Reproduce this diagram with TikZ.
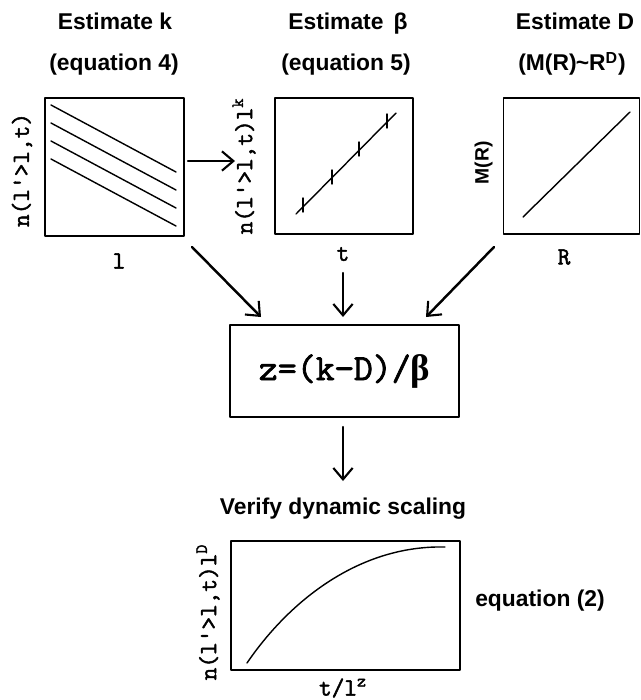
\documentclass[tikz,border=0pt]{standalone}
\usepackage{fontspec}
\setmainfont{Liberation Sans}
\newfontfamily\labfont{Latin Modern Mono}[FakeBold=2]
\newfontfamily\betafont{Liberation Serif}
\newcommand\zbeta{{\betafont\bfseries β}}
\usetikzlibrary{arrows.meta}

\begin{document}
\begin{tikzpicture}[
    x=0.02cm,
    y=-0.02cm,
    line cap=round,
    line join=round,
    plotbox/.style={draw, line width=1pt, inner sep=0pt},
    curve/.style={line width=0.8pt},
    arr/.style={line width=1.4pt, -{Straight Barb[length=6.5pt,width=11pt,line width=1.2pt]}},
    title/.style={font=\fontsize{13}{15}\selectfont\bfseries, text height=0.75em, text depth=0.22em},
    axlab/.style={font=\fontsize{14}{16}\selectfont\labfont, inner sep=1pt}
]

\useasboundingbox (0,0) rectangle (641,700);

% -------------------------------------------------
% Заголовки
% -------------------------------------------------

\node[title] (titleK) at (115,25) {Estimate k};
\node[title] (eqK)    at (114,66) {(equation 4)};
\node[title] (titleB) at (348,25) {Estimate \,β};
\node[title] (eqB)    at (346,66) {(equation 5)};
\node[title] (titleD) at (575,25) {Estimate D};
\node[title] (eqD)    at (572,66) {(M(R)\kern-.5pt\textasciitilde R\textsuperscript{D})};

% -------------------------------------------------
% Графики верхнего ряда
% -------------------------------------------------

\node[plotbox, minimum width=2.78cm, minimum height=2.76cm] (plotK) at (114.5,167) {};
\node[plotbox, minimum width=2.76cm, minimum height=2.72cm] (plotB) at (344,166) {};
\node[plotbox, minimum width=2.72cm, minimum height=2.72cm] (plotD) at (571.5,166) {};

% прямые n(l'>l,t)
\foreach \y in {0,18,36,54}
    \draw[curve] (51,105+\y) -- (176,172+\y);

% прямая с отметками
\draw[curve] (296,214) -- (396,113);
\foreach \x/\y in {303/205, 332/177, 359/149, 387/121}
    \draw[curve] (\x,\y-7) -- (\x,\y+7);

% M(R)
\draw[curve] (523,217) -- (630,112);

% -------------------------------------------------
% Подписи осей
% -------------------------------------------------

\node[axlab, rotate=90] (ylabK) at (22,170)  {n(l'>l,t)};
\node[axlab]            (xlabK) at (119,261) {l};
\node[axlab, rotate=90] (ylabB) at (244,166) {n(l'>l,t)l\textsuperscript{k}};
\node[axlab]            (xlabB) at (343,254) {t};
\node[title, rotate=90, font=\fontsize{11}{13}\selectfont\bfseries] (ylabD) at (484,163) {M(R)};
\node[axlab]            (xlabD) at (564,257) {R};

% -------------------------------------------------
% Стрелки
% -------------------------------------------------

\coordinate (kbOut) at (188,161);
\coordinate (kbIn)  at (235,161);
\coordinate (kOut)  at (192,247);
\coordinate (kIn)   at (261,317);
\coordinate (bOut)  at (343,273);
\coordinate (bIn)   at (343,317);
\coordinate (dOut)  at (494,247);
\coordinate (dIn)   at (426,317);
\coordinate (zOut)  at (343,427);
\coordinate (zIn)   at (343,481);

\draw[arr] (kbOut) -- (kbIn);
\draw[arr] (kOut) -- (kIn);
\draw[arr] (bOut) -- (bIn);
\draw[arr] (dOut) -- (dIn);

% -------------------------------------------------
% Формула для z
% -------------------------------------------------

\node[plotbox, minimum width=4.58cm, minimum height=1.84cm,
      font=\fontsize{21}{25}\selectfont\labfont] (zbox) at (344.5,371)
    {z=(k−D)/\zbeta};

\draw[arr] (zOut) -- (zIn);

% -------------------------------------------------
% Проверка скейлинга
% -------------------------------------------------

\node[title] (titleV) at (343,510) {Verify dynamic scaling};
\node[plotbox, minimum width=4.58cm, minimum height=2.58cm] (plotV) at (345.5,605.5) {};
\draw[curve] (247,663) .. controls (290,600) and (360,545) .. (445,547);

\node[axlab, rotate=90] (ylabV) at (208,612) {n(l'>l,t)l\textsuperscript{D}};
\node[axlab]            (xlabV) at (343,688) {t/l\textsuperscript{z}};
\node[title]            (eqV)   at (540,602) {equation (2)};

\end{tikzpicture}
\end{document}
